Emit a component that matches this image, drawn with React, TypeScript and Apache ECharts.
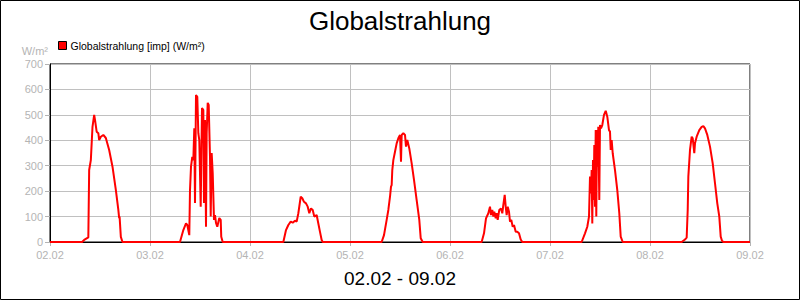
import React, { useEffect, useRef } from "react";
import * as echarts from "echarts";

const TITLE = "Globalstrahlung";
const SUBTITLE = "02.02 - 09.02";
const SERIES_NAME = "Globalstrahlung [imp] (W/m²)";
const UNIT = "W/m²";
const TICK_LABELS = ["02.02", "03.02", "04.02", "05.02", "06.02", "07.02", "08.02", "09.02"];
const Y_MIN = 0;
const Y_MAX = 700;
const Y_STEP = 100;

// [hour of day, W/m²]
const day0202: [number, number][] = [
  [7.7, 0], [8.2, 8], [9.2, 18], [9.4, 283], [9.8, 322], [10.2, 453], [10.6, 500], [10.8, 480],
  [11.2, 434], [11.6, 428], [11.8, 401], [12.2, 414], [12.8, 421], [13.4, 409], [14.2, 362],
  [15.0, 296], [15.8, 205], [16.4, 126], [16.6, 94], [16.7, 100], [17.0, 20], [17.4, 0],
];
const day0302: [number, number][] = [
  [7.2, 0], [8.0, 47], [8.64, 73], [8.95, 67], [9.43, 27], [9.6, 204], [9.84, 296], [10.15, 335],
  [10.4, 322], [10.63, 447], [10.8, 153], [11.04, 578], [11.35, 571], [11.6, 428], [11.83, 401],
  [12.17, 139], [12.48, 527], [12.8, 519], [12.96, 153], [13.2, 480], [13.44, 60], [13.6, 428],
  [13.85, 547], [14.09, 539], [14.4, 335], [14.57, 100], [14.8, 350], [15.05, 271], [15.36, 87],
  [15.6, 106], [15.84, 75], [16.15, 60], [16.63, 94], [16.97, 87], [17.1, 21], [17.45, 0],
];
const day0402: [number, number][] = [
  [8.0, 0], [8.64, 47], [9.2, 67], [9.77, 80], [10.25, 76], [10.8, 84], [11.2, 80], [11.6, 113],
  [12.17, 178], [12.55, 172], [12.96, 158], [13.44, 152], [13.85, 139], [14.23, 113], [14.64, 132],
  [15.05, 126], [15.43, 100], [16.0, 106], [16.4, 73], [16.8, 40], [17.2, 8], [17.45, 0],
];
const day0502: [number, number][] = [
  [7.6, 0], [8.16, 27], [8.8, 87], [9.2, 126], [9.6, 178], [9.84, 218], [10.0, 224], [10.15, 283],
  [10.4, 322], [10.8, 355], [11.2, 388], [11.6, 408], [12.0, 421], [12.24, 316], [12.4, 421],
  [12.8, 428], [13.2, 421], [13.44, 375], [13.75, 401], [14.23, 368], [14.8, 309], [15.36, 244],
  [16.0, 165], [16.63, 87], [16.97, 15], [17.45, 0],
];
const day0602: [number, number][] = [
  [7.6, 0], [8.16, 34], [8.64, 93], [9.2, 113], [9.6, 139], [9.84, 106], [10.15, 126], [10.4, 100],
  [10.63, 119], [10.97, 93], [11.2, 113], [11.45, 87], [11.83, 126], [12.24, 132], [12.55, 113],
  [12.8, 146], [13.13, 185], [13.37, 139], [13.6, 106], [13.85, 139], [14.16, 119], [14.4, 80],
  [14.71, 87], [15.05, 60], [15.36, 67], [15.77, 40], [16.15, 40], [16.56, 34], [16.97, 10], [17.35, 0],
];
const day0702: [number, number][] = [
  [7.6, 0], [8.4, 34], [8.95, 60], [9.36, 100], [9.6, 257], [9.84, 191], [10.0, 283], [10.15, 73],
  [10.32, 322], [10.49, 165], [10.63, 381], [10.8, 139], [10.97, 440], [11.11, 100], [11.28, 440],
  [11.45, 296], [11.59, 453], [11.83, 165], [12.0, 460], [12.24, 447], [12.55, 460], [12.96, 500],
  [13.37, 516], [13.75, 493], [14.16, 440], [14.4, 434], [14.57, 362], [14.8, 401], [15.05, 349],
  [15.6, 283], [16.15, 204], [16.63, 113], [16.97, 21], [17.45, 0],
];
const day0802: [number, number][] = [
  [7.6, 0], [8.4, 10], [8.8, 17], [9.05, 126], [9.2, 257], [9.6, 362], [10.0, 414], [10.25, 408],
  [10.63, 349], [10.8, 388], [11.2, 414], [11.83, 440], [12.4, 453], [12.8, 456], [13.2, 447],
  [13.75, 421], [14.4, 375], [15.05, 309], [15.6, 231], [16.15, 152], [16.63, 100], [16.97, 21],
  [17.28, 5], [17.6, 0],
];

const DAYS = [day0202, day0302, day0402, day0502, day0602, day0702, day0802];

export default function App() {
  const ref = useRef<HTMLDivElement>(null);
  useEffect(() => {
    if (!ref.current) return;
    const chart = echarts.init(ref.current, undefined, { renderer: "svg" });
    const data: [number, number][] = [[0, 0]];
    DAYS.forEach((d, i) => d.forEach(([h, v]) => data.push([i * 24 + h, v])));
    data.push([(TICK_LABELS.length - 1) * 24, 0]);
    const grey = "#b4b4b4";
    const font = "'Liberation Sans', Arial, sans-serif";
    chart.setOption({
      animation: false,
      backgroundColor: "#fff",
      title: [
        {
          text: TITLE,
          left: "center",
          top: 3,
          textStyle: { fontFamily: font, fontSize: 26, fontWeight: "normal", color: "#000" },
        },
        {
          text: SUBTITLE,
          left: "center",
          top: 264,
          textStyle: { fontFamily: font, fontSize: 19, fontWeight: "normal", color: "#000" },
        },
      ],
      legend: {
        left: 56,
        top: 38,
        icon: "rect",
        itemWidth: 8,
        itemHeight: 8,
        itemGap: 4,
        padding: 2,
        textStyle: { fontFamily: font, fontSize: 10.5, color: "#000", padding: [0, 0, 0, -1] },
        itemStyle: { borderColor: "#000", borderWidth: 1 },
        data: [SERIES_NAME],
      },
      graphic: [
        {
          type: "rect",
          shape: { x: 0.5, y: 0.5, width: 799, height: 299 },
          style: { fill: "none", stroke: "#000", lineWidth: 1 },
          silent: true,
        },
        {
          type: "text",
          x: 48,
          y: 45,
          style: { text: UNIT, fill: grey, font: `11px ${font}`, textAlign: "right" },
        },
      ],
      grid: { left: 50, right: 50, top: 64, bottom: 58, show: true, borderColor: "#000", borderWidth: 1 },
      xAxis: {
        type: "value",
        min: 0,
        max: (TICK_LABELS.length - 1) * 24,
        interval: 24,
        axisLine: { show: true, lineStyle: { color: "#000", width: 1 } },
        axisTick: { show: true, length: 4, lineStyle: { color: grey } },
        axisLabel: {
          color: grey,
          fontFamily: font,
          fontSize: 11,
          margin: 7,
          formatter: (v: number) => TICK_LABELS[Math.round(v / 24)] ?? "",
        },
        splitLine: { show: true, lineStyle: { color: "#c0c0c0", width: 1 } },
      },
      yAxis: {
        type: "value",
        min: Y_MIN,
        max: Y_MAX,
        interval: Y_STEP,
        axisLine: { show: true, lineStyle: { color: "#000", width: 1 } },
        axisTick: { show: true, length: 5, lineStyle: { color: grey } },
        axisLabel: { color: grey, fontFamily: font, fontSize: 11, margin: 7 },
        splitLine: { show: true, lineStyle: { color: "#c0c0c0", width: 1 } },
      },
      series: [
        {
          name: SERIES_NAME,
          type: "line",
          data,
          showSymbol: false,
          symbol: "none",
          color: "#ff0000",
          lineStyle: { color: "#ff0000", width: 2 },
        },
      ],
    });
    return () => chart.dispose();
  }, []);
  return (
    <div
      ref={ref}
      style={{ position: "absolute", left: 0, top: 0, width: 800, height: 300 }}
    />
  );
}
